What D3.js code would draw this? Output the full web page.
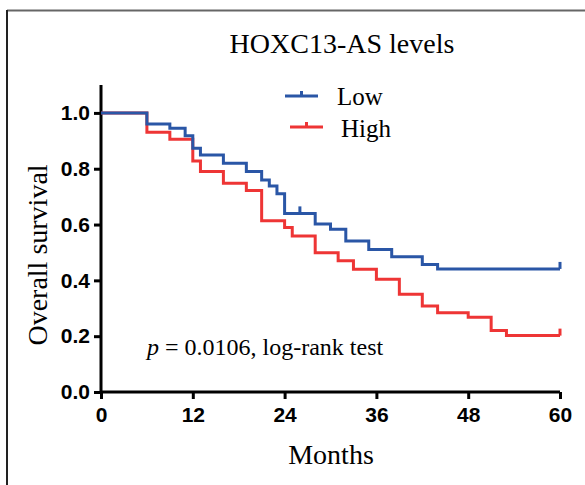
<!DOCTYPE html>
<html>
<head>
<meta charset="utf-8">
<script src="https://cdn.jsdelivr.net/npm/d3@7"></script>
<style>
  body { margin: 0; background: #fff; }
  svg { display: block; }
</style>
</head>
<body>
<div id="chart"></div>
<script>
// survival curves (months, survival)
var lowTimes = [0, 6, 9, 11, 12, 13, 16, 19, 21, 22, 23, 24, 28, 30, 32, 35, 38, 42, 44, 60];
var lowSurv = [1.0, 0.96, 0.945, 0.918, 0.873, 0.849, 0.82, 0.79, 0.76, 0.738, 0.71, 0.64, 0.602, 0.583, 0.541, 0.511, 0.485, 0.457, 0.441, 0.441];
var lowCensor = [26, 60];

var highTimes = [0, 6, 9, 12, 13, 16, 19, 21, 24, 25, 28, 31, 33, 36, 39, 42, 44, 48, 51, 53, 60];
var highSurv = [1.0, 0.931, 0.906, 0.828, 0.79, 0.748, 0.722, 0.614, 0.589, 0.559, 0.499, 0.47, 0.44, 0.404, 0.35, 0.308, 0.284, 0.268, 0.22, 0.202, 0.202];
var highCensor = [60];

var xTicks = [0, 12, 24, 36, 48, 60];
var yTicks = [0, 0.2, 0.4, 0.6, 0.8, 1.0];

var blue = "#2a56a6", red = "#ee3535";

var svg = d3.select("#chart").append("svg")
    .attr("width", 585)
    .attr("height", 485);

// frame (cut off at right and bottom)
svg.append("line").attr("x1", 7).attr("y1", 10.5).attr("x2", 585).attr("y2", 10.5)
    .attr("stroke", "#666").attr("stroke-width", 2);
svg.append("line").attr("x1", 7).attr("y1", 10).attr("x2", 7).attr("y2", 485)
    .attr("stroke", "#222").attr("stroke-width", 2);

var x = d3.scaleLinear().domain([0, 60]).range([101, 560]);
var y = d3.scaleLinear().domain([0, 1.1]).range([392, 85]);

var xAxis = svg.append("g")
    .attr("transform", "translate(0,392)")
    .call(d3.axisBottom(x).tickValues(xTicks).tickSize(7).tickPadding(8).tickFormat(d3.format("d")));
var yAxis = svg.append("g")
    .attr("transform", "translate(101,0)")
    .call(d3.axisLeft(y).tickValues(yTicks).tickSize(7).tickPadding(4).tickFormat(d3.format(".1f")));

[xAxis, yAxis].forEach(function(a) {
  a.select(".domain").attr("stroke", "#000").attr("stroke-width", 3);
  a.selectAll(".tick line").attr("stroke", "#000").attr("stroke-width", 3);
  a.selectAll(".tick text")
    .attr("fill", "#000")
    .style("font-family", "Arial, 'Liberation Sans', sans-serif")
    .style("font-weight", "bold")
    .style("font-size", "21px");
});
// plain axis lines without end caps
xAxis.select(".domain").attr("d", "M" + x(0) + ",0H" + x(60));
yAxis.select(".domain").attr("d", "M0," + y(0) + "V" + y(1.1));

var line = d3.line()
    .x(function(d) { return x(d[0]); })
    .y(function(d) { return y(d[1]); })
    .curve(d3.curveStepAfter);

function drawCurve(times, surv, censor, color) {
  var pts = times.map(function(t, i) { return [t, surv[i]]; });
  svg.append("path")
      .attr("d", line(pts))
      .attr("fill", "none")
      .attr("stroke", color)
      .attr("stroke-width", 3);
  censor.forEach(function(t) {
    var s = surv[d3.bisectRight(times, t) - 1];
    svg.append("line")
        .attr("x1", x(t)).attr("x2", x(t))
        .attr("y1", y(s)).attr("y2", y(s) - 7)
        .attr("stroke", color).attr("stroke-width", 3);
  });
}

drawCurve(highTimes, highSurv, highCensor, red);
drawCurve(lowTimes, lowSurv, lowCensor, blue);

var serif = "'Times New Roman', 'Liberation Serif', serif";

svg.append("text")
    .attr("x", 342).attr("y", 53)
    .attr("text-anchor", "middle")
    .style("font-family", serif).style("font-size", "28px")
    .text("HOXC13-AS levels");

// legend
var legend = [
  {label: "Low", color: blue, x1: 285, x2: 318, y: 96, tx: 337, ty: 105},
  {label: "High", color: red, x1: 290, x2: 323, y: 127, tx: 341, ty: 137}
];
legend.forEach(function(l) {
  svg.append("line").attr("x1", l.x1).attr("x2", l.x2).attr("y1", l.y).attr("y2", l.y)
      .attr("stroke", l.color).attr("stroke-width", 3);
  var mid = (l.x1 + l.x2) / 2;
  svg.append("line").attr("x1", mid).attr("x2", mid).attr("y1", l.y).attr("y2", l.y - 5)
      .attr("stroke", l.color).attr("stroke-width", 3);
  svg.append("text").attr("x", l.tx).attr("y", l.ty)
      .style("font-family", serif).style("font-size", "25px")
      .text(l.label);
});

var pText = svg.append("text")
    .attr("x", 147).attr("y", 355)
    .style("font-family", serif).style("font-size", "24px");
pText.append("tspan").style("font-style", "italic").text("p");
pText.append("tspan").text(" = 0.0106, log-rank test");

svg.append("text")
    .attr("x", 331).attr("y", 464)
    .attr("text-anchor", "middle")
    .style("font-family", serif).style("font-size", "28px")
    .text("Months");

svg.append("text")
    .attr("transform", "translate(47,255) rotate(-90)")
    .attr("text-anchor", "middle")
    .style("font-family", serif).style("font-size", "28px")
    .text("Overall survival");
</script>
</body>
</html>
